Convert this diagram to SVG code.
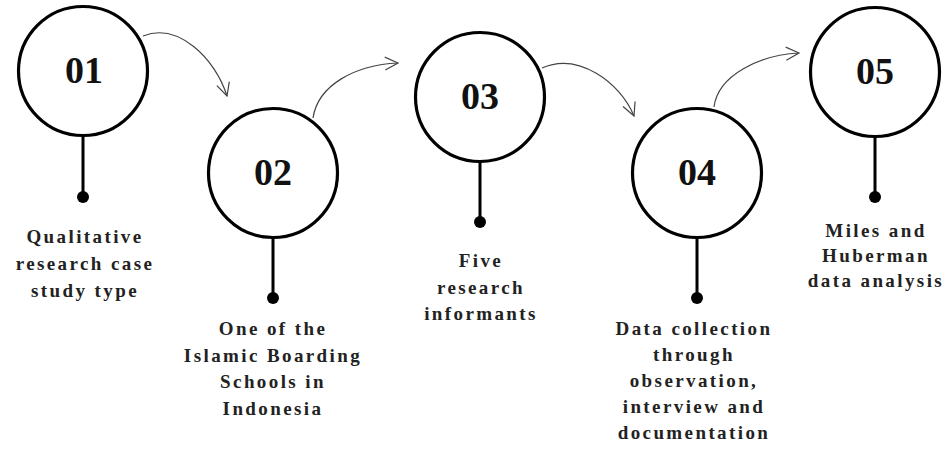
<svg xmlns="http://www.w3.org/2000/svg" width="945" height="452" viewBox="0 0 945 452">
<style>
.ring{fill:#fff;stroke:#000;stroke-width:3.2}
.stem{stroke:#000;stroke-width:3}
.dot{fill:#000}
.num{font-family:"Liberation Serif",serif;font-weight:bold;font-size:38px;text-anchor:middle;fill:#111}
.lbl{font-family:"Liberation Serif",serif;font-weight:bold;font-size:19px;letter-spacing:2.4px;text-anchor:middle;fill:#222}
.arr{fill:none;stroke:#444;stroke-width:1.2}
</style>
<defs>
<marker id="ah" markerUnits="userSpaceOnUse" markerWidth="20" markerHeight="20" viewBox="-14 -10 16 20" refX="0" refY="0" orient="auto">
<path d="M-13,-6.5 L0,0 L-13,6.5" fill="none" stroke="#444" stroke-width="1.2"/>
</marker>
</defs>
<rect width="945" height="452" fill="#fff"/>
<g id="connectors">
<path class="arr" d="M143,36 C178,22 215,58 227,96" marker-end="url(#ah)"/>
<path class="arr" d="M313,118 C318,85 355,65 398,63" marker-end="url(#ah)"/>
<path class="arr" d="M542,68 C578,52 620,82 634,116" marker-end="url(#ah)"/>
<path class="arr" d="M714,107 C718,75 760,55 799,53" marker-end="url(#ah)"/>
</g>
<g id="node1">
<line class="stem" x1="83" y1="136" x2="83" y2="197"/>
<circle class="dot" cx="83" cy="197" r="6"/>
<circle class="ring" cx="83" cy="71" r="64.5"/>
<text class="num" x="84" y="83">01</text>
<text class="lbl" x="85" y="243">Qualitative</text>
<text class="lbl" x="85" y="270">research case</text>
<text class="lbl" x="85" y="297">study type</text>
</g>
<g id="node2">
<line class="stem" x1="273" y1="237" x2="273" y2="298"/>
<circle class="dot" cx="273" cy="298" r="6"/>
<circle class="ring" cx="273" cy="173" r="64.5"/>
<text class="num" x="273" y="185">02</text>
<text class="lbl" x="273" y="335">One of the</text>
<text class="lbl" x="273" y="362">Islamic Boarding</text>
<text class="lbl" x="273" y="388">Schools in</text>
<text class="lbl" x="273" y="415">Indonesia</text>
</g>
<g id="node3">
<line class="stem" x1="480" y1="161" x2="480" y2="222"/>
<circle class="dot" cx="480" cy="222" r="6"/>
<circle class="ring" cx="480" cy="97" r="64.5"/>
<text class="num" x="480" y="109">03</text>
<text class="lbl" x="481" y="267">Five</text>
<text class="lbl" x="481" y="294">research</text>
<text class="lbl" x="481" y="320">informants</text>
</g>
<g id="node4">
<line class="stem" x1="697" y1="237" x2="697" y2="298"/>
<circle class="dot" cx="697" cy="298" r="6"/>
<circle class="ring" cx="697" cy="173" r="64.5"/>
<text class="num" x="697" y="185">04</text>
<text class="lbl" x="694" y="335">Data collection</text>
<text class="lbl" x="694" y="361">through</text>
<text class="lbl" x="694" y="387">observation,</text>
<text class="lbl" x="694" y="413">interview and</text>
<text class="lbl" x="694" y="439">documentation</text>
</g>
<g id="node5">
<line class="stem" x1="875" y1="136" x2="875" y2="197"/>
<circle class="dot" cx="875" cy="197" r="6"/>
<circle class="ring" cx="875" cy="72" r="64.5"/>
<text class="num" x="875" y="84">05</text>
<text class="lbl" x="876" y="237">Miles and</text>
<text class="lbl" x="876" y="262">Huberman</text>
<text class="lbl" x="876" y="287">data analysis</text>
</g>
</svg>
